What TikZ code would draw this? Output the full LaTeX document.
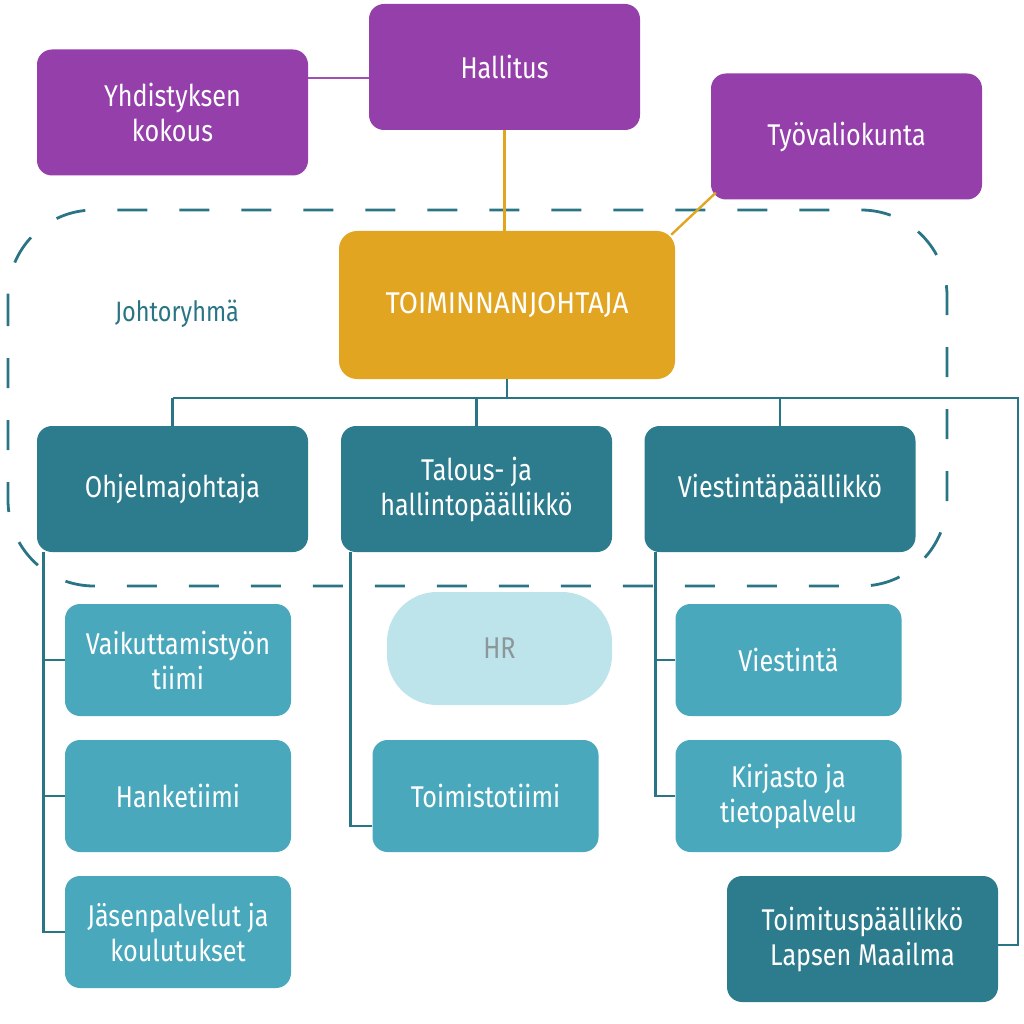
\documentclass[tikz,border=0pt]{standalone}
\usepackage{fontspec}
\setmainfont{Fira Sans}[FakeStretch=0.84]
\definecolor{cpurple}{HTML}{943FAA}
\definecolor{cpurpleline}{HTML}{A04FB5}
\definecolor{cgold}{HTML}{E2A522}
\definecolor{cdark}{HTML}{2D7C8E}
\definecolor{cmid}{HTML}{4AA8BD}
\definecolor{clight}{HTML}{BDE4EA}
\definecolor{cline}{HTML}{2A7585}
\definecolor{cgray}{HTML}{8C979B}
\begin{document}
\begin{tikzpicture}[x=1pt,y=-1pt,
  every node/.style={font=\fontsize{30}{35}\selectfont},
  boxbase/.style={rounded corners=15pt, text=white, align=center, inner sep=0pt},
  bigbox/.style={boxbase, minimum width=271pt, minimum height=126pt},
  smallbox/.style={boxbase, fill=cmid, minimum width=226pt, minimum height=112pt},
  purplebox/.style={bigbox, fill=cpurple},
  darkbox/.style={bigbox, fill=cdark},
  treeline/.style={draw=cline, line width=2.8pt},
  goldline/.style={draw=cgold, line width=2.4pt},
  purpline/.style={draw=cpurpleline, line width=2.4pt},
  groupframe/.style={draw=cline, line width=2.8pt, dash pattern=on 30pt off 32pt, rounded corners=86pt}
]
\useasboundingbox (0,0) rectangle (1024,1024);

% dashed management group
\draw[groupframe] (8,210) rectangle (947,586);
\node[text=cline, font=\fontsize{28}{33}\selectfont] (jr) at (177,314) {Johtoryhmä};

% top level
\node[purplebox] (yk) at (172.5,112.5) {Yhdistyksen\\kokous};
\node[purplebox] (hal) at (504.5,67) {Hallitus};
\node[purplebox] (tyo) at (846.5,136.5) {Työvaliokunta};
\node[boxbase, fill=cgold, minimum width=336pt, minimum height=148pt, rounded corners=18pt] (tj) at (507,305) {\scalebox{1.1}[1]{TOIMINNANJOHTAJA}};

% second level
\node[darkbox] (oj) at (172.5,489) {Ohjelmajohtaja};
\node[darkbox] (th) at (476.5,489) {Talous- ja\\hallintopäällikkö};
\node[darkbox] (vp) at (780,489) {Viestintäpäällikkö};

% teams
\node[smallbox] (vt) at (178,660) {Vaikuttamistyön\\tiimi};
\node[smallbox] (ht) at (178,796) {Hanketiimi};
\node[smallbox] (jk) at (178,932) {Jäsenpalvelut ja\\koulutukset};
\node[boxbase, fill=clight, text=cgray, minimum width=225pt, minimum height=113pt, rounded corners=50pt] (hr) at (499.5,648.5) {HR};
\node[smallbox] (tt) at (485.5,796) {Toimistotiimi};
\node[smallbox] (vi) at (788.5,660) {Viestintä};
\node[smallbox] (kt) at (788.5,796) {Kirjasto ja\\tietopalvelu};
\node[darkbox] (tp) at (862.5,939) {Toimituspäällikkö\\Lapsen Maailma};

% upper connectors
\coordinate (ha) at ([yshift=-11pt]hal.west);
\draw[purpline] (ha) -- (ha -| yk.east);
\draw[goldline] (hal.south) -- (hal.south |- tj.north);
\draw[goldline] ([shift={(5,-7)}]tyo.south west) -- ([shift={(-4,4)}]tj.north east);

% main tree
\coordinate (busL) at (oj.north |- 0,398);
\coordinate (busR) at (1018,398);
\draw[treeline] (tj.south) -- (tj.south |- busL);
\draw[treeline] (busL) -- (busR) |- ([yshift=-6pt]tp.east);
\draw[treeline] (busL) -- (oj.north);
\draw[treeline] (th.north |- busL) -- (th.north);
\draw[treeline] (vp.north |- busL) -- (vp.north);

% left subtree
\coordinate (lx) at ([xshift=7pt]oj.south west);
\draw[treeline] (lx) |- (jk.west);
\draw[treeline] (lx |- vt.west) -- (vt.west);
\draw[treeline] (lx |- ht.west) -- (ht.west);

% middle subtree
\coordinate (mx) at ([xshift=10pt]th.south west);
\draw[treeline] (mx) |- ([yshift=-30pt]tt.west);

% right subtree
\coordinate (rx) at ([xshift=11pt]vp.south west);
\draw[treeline] (rx) |- (kt.west);
\draw[treeline] (rx |- vi.west) -- (vi.west);
\end{tikzpicture}
\end{document}
